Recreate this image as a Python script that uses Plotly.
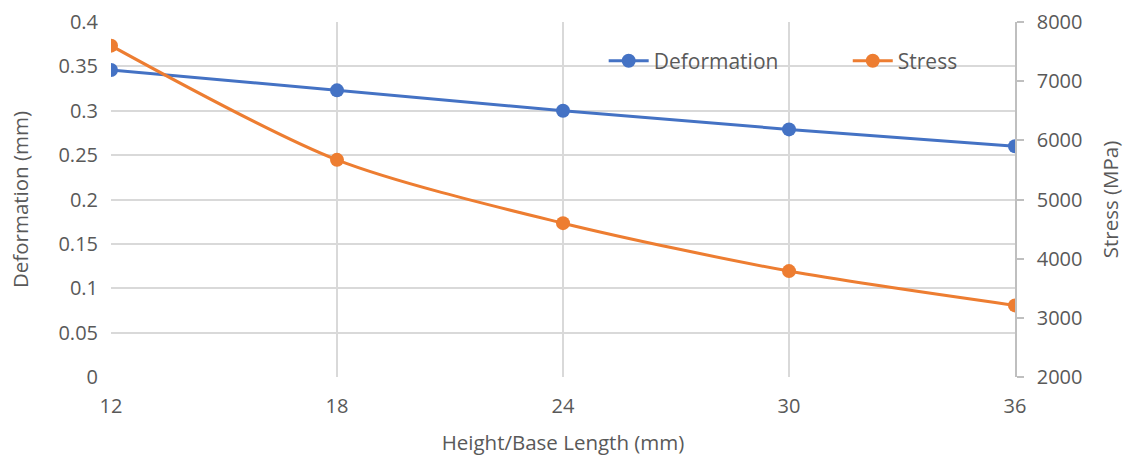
import plotly.graph_objects as go

# Height/base length of the specimen (mm)
height_base = [12, 18, 24, 30, 36]
# Maximum deformation (mm)
deformation = [0.346, 0.323, 0.300, 0.279, 0.260]
# Maximum stress (MPa)
stress = [7600, 5670, 4600, 3790, 3210]

x_ticks = [12, 18, 24, 30, 36]
y_ticks = [0, 0.05, 0.1, 0.15, 0.2, 0.25, 0.3, 0.35, 0.4]
y_tick_text = ["0", "0.05", "0.1", "0.15", "0.2", "0.25", "0.3", "0.35", "0.4"]
y2_ticks = [2000, 3000, 4000, 5000, 6000, 7000, 8000]

BLUE = "#4472C4"
ORANGE = "#ED7D31"
GRID = "#D9D9D9"
TEXT = "#595959"
FONT = "Open Sans"

fig = go.Figure()
fig.add_trace(go.Scatter(
    x=height_base, y=deformation, name="Deformation",
    mode="lines+markers",
    line=dict(color=BLUE, width=3),
    marker=dict(color=BLUE, size=14),
    yaxis="y", legend="legend",
))
fig.add_trace(go.Scatter(
    x=height_base, y=stress, name="Stress",
    mode="lines+markers",
    line=dict(color=ORANGE, width=3, shape="spline", smoothing=0.8),
    marker=dict(color=ORANGE, size=14),
    yaxis="y2", legend="legend2",
))

legend_style = dict(
    orientation="h", yanchor="middle", xanchor="left",
    bgcolor="rgba(0,0,0,0)", font=dict(size=21, color=TEXT),
    itemwidth=40,
)

fig.update_layout(
    width=1128, height=459,
    margin=dict(l=111, r=113, t=22, b=82, autoexpand=False),
    paper_bgcolor="white", plot_bgcolor="white",
    font=dict(family=FONT, size=20, color=TEXT),
    xaxis=dict(
        range=[12, 36], tickvals=x_ticks, ticktext=[str(v) for v in x_ticks],
        showgrid=True, gridcolor=GRID, gridwidth=1.5,
        zeroline=False, showline=False, ticks="",
        ticklabelstandoff=15,
        title=dict(text="Height/Base Length (mm)", standoff=17,
                   font=dict(size=20.5, color=TEXT)),
    ),
    yaxis=dict(
        range=[0, 0.4], tickvals=y_ticks, ticktext=y_tick_text,
        showgrid=True, gridcolor=GRID, gridwidth=1.5,
        zeroline=False, showline=False, ticks="",
        ticklabelstandoff=12,
        title=dict(text="Deformation (mm)", standoff=24,
                   font=dict(size=20.5, color=TEXT)),
    ),
    yaxis2=dict(
        range=[2000, 8000], tickvals=y2_ticks,
        ticktext=[str(v) for v in y2_ticks],
        overlaying="y", side="right",
        showgrid=False, zeroline=False,
        showline=True, linecolor="#BFBFBF", linewidth=1.5,
        ticks="outside", ticklen=7, tickcolor="#BFBFBF", tickwidth=1.5,
        ticklabelstandoff=9,
        title=dict(text="Stress (MPa)", standoff=22,
                   font=dict(size=20.5, color=TEXT)),
    ),
    legend=dict(x=0.545, y=0.89, **legend_style),
    legend2=dict(x=0.815, y=0.89, **legend_style),
    showlegend=True,
)

fig.write_html("out.html")
